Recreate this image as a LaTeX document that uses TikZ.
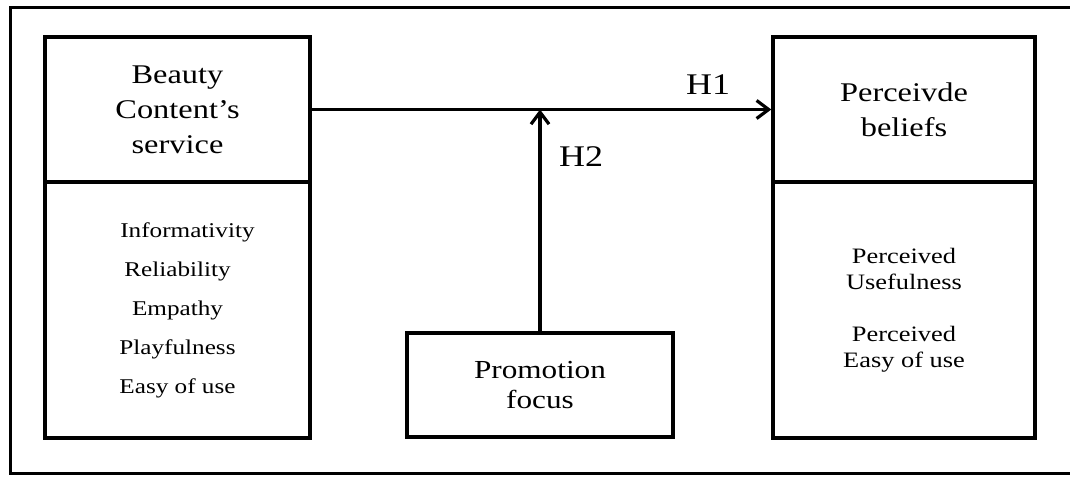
\documentclass[tikz,border=0pt]{standalone}
\usepackage{fontspec}
\setmainfont{Liberation Serif}[FakeStretch=1.2]
\usetikzlibrary{arrows.meta}
\tikzset{
  >={Straight Barb[length=12pt,width=18pt]},
}
\tikzstyle{box}=[draw,line width=3.5pt,inner sep=0pt,align=center]
\tikzstyle{link}=[line width=3.2pt,->]
\tikzstyle{headfont}=[font={\fontsize{27}{35}\selectfont}]
\tikzstyle{hyp}=[font={\fontsize{30}{36}\selectfont}]

\begin{document}
\begin{tikzpicture}[x=1pt,y=-1pt]
    \useasboundingbox (0,0) rectangle (1070,477);
    \draw[line width=3pt] (10,7) rectangle (1085,473);
    % left construct
    \node[box,headfont,minimum width=265pt,minimum height=145pt] (service) at (177.5,109.5)
      {Beauty\\Content's\\service};
    \node[box,minimum width=265pt,minimum height=256pt,font={\fontsize{21}{39}\selectfont}] (dims) at (177.5,310)
      {\hspace*{20pt}Informativity\\Reliability\\Empathy\\Playfulness\\Easy of use};
    % right construct
    \node[box,headfont,minimum width=262pt,minimum height=145pt] (beliefs) at (904,109.5)
      {Perceivde\\beliefs};
    \node[box,minimum width=262pt,minimum height=256pt,font={\fontsize{22}{26}\selectfont}] (perc) at (904,310)
      {Perceived\\Usefulness\\[26pt]Perceived\\Easy of use};
    % moderator
    \node[box,minimum width=266pt,minimum height=104pt,font={\fontsize{26}{30}\selectfont}] (promo) at (540,385)
      {Promotion\\focus};
    \draw[link] (service.east) -- (beliefs.west);
    \draw[link] (promo.north) -- (promo.north |- service.east);
    \node[hyp] (h1) at (708,85) {H1};
    \node[hyp] (h2) at (581,157) {H2};
  \end{tikzpicture}
\end{document}
